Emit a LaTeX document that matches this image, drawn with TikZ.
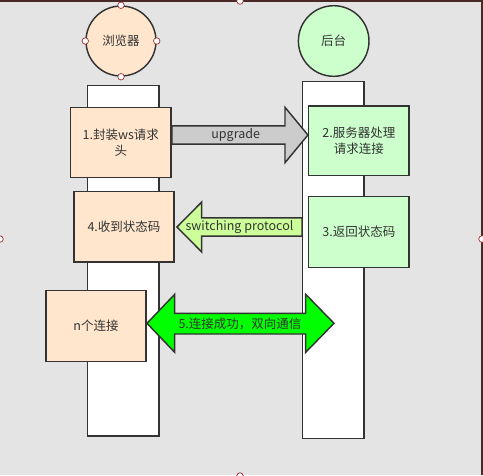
\documentclass[tikz,border=0pt]{standalone}
\usepackage{fontspec}
\setmainfont{Noto Sans CJK SC}
\definecolor{bg}{HTML}{E4E4E4}
\definecolor{peach}{HTML}{FFE6CC}
\definecolor{mint}{HTML}{CCFFCC}
\definecolor{arrgray}{HTML}{CCCCCC}
\definecolor{arrlime}{HTML}{CCFF99}
\definecolor{arrgreen}{HTML}{00FF00}
\definecolor{ink}{HTML}{333333}
\definecolor{frame}{HTML}{4A2828}
\definecolor{handle}{HTML}{A03030}
\begin{document}
\begin{tikzpicture}[x=1pt,y=-1pt,
  every node/.style={font=\fontsize{12.5}{16}\selectfont, text=ink},
  lifeline/.style={draw=ink, line width=1.45pt, fill=white, rectangle, inner sep=0pt},
  actor/.style={draw=ink, line width=1.45pt, circle, inner sep=0pt, minimum size=70pt},
  stepbox/.style={draw=ink, line width=1.45pt, rectangle, inner sep=0pt, align=center, minimum width=100.4pt, minimum height=70.4pt},
  blockarrow/.style={draw=ink, line width=1.45pt, line join=miter},
  grip/.style={draw=handle, fill=white, line width=0.7pt, circle, inner sep=0pt, minimum size=6.5pt}
]
\useasboundingbox (0,0) rectangle (483,475);
\fill[bg] (0,0) rectangle (481.5,475);
\draw[frame, line width=1.3pt] (0,1) -- (481.5,1);
\draw[frame, line width=2pt] (481.5,0) -- (481.5,475);

% lifelines
\node[lifeline, minimum width=71.3pt, minimum height=350.3pt] (ll1) at (123.35,260.85) {};
\node[lifeline, minimum width=61.3pt, minimum height=357pt] (ll2) at (333.35,260.2) {};

% actors
\node[actor, fill=peach] (browser) at (121,41) {浏览器};
\node[actor, fill=mint, minimum size=70.6pt] (server) at (333.7,41) {后台};

% step boxes
\node[stepbox, fill=peach] (b1) at (120.85,142.5) {1.封装ws请求\\头};
\node[stepbox, fill=mint, minimum height=69.7pt] (b2) at (358.85,140.85) {2.服务器处理\\请求连接};
\node[stepbox, fill=peach] (b4) at (124,226.85) {4.收到状态码};
\node[stepbox, fill=mint, minimum height=70.6pt] (b3) at (358.85,232) {3.返回状态码};
\node[stepbox, fill=peach, minimum height=70.6pt] (bn) at (96,326) {n个连接};

% upgrade arrow
\draw[blockarrow, fill=arrgray] (b1.east |- 0,125.8) -- (285,125.8) -- (285,107.3) -- (b2.west |- 0,135) -- (285,162.7) -- (285,144.2) -- (b1.east |- 0,144.2) -- cycle;
\node (lup) at (235.7,135.2) {upgrade};

% switching protocol arrow
\coordinate (swtip) at (177,227);
\draw[blockarrow, fill=arrlime] (ll2.west |- 0,217.8) -- (201.7,217.8) -- (201.7,202) -- (swtip) -- (201.7,252) -- (201.7,236.2) -- (ll2.west |- 0,236.2) -- cycle;
\node (lsw) at (239.5,227.5) {switching protocol};

% bidirectional arrow
\coordinate (dl) at (147,323.3);
\coordinate (dr) at (334,323.3);
\draw[blockarrow, fill=arrgreen] (dl) -- (174.7,294.3) -- (174.7,313.3) -- (305.7,313.3) -- (305.7,294.3) -- (dr) -- (305.7,352.3) -- (305.7,334) -- (174.7,334) -- (174.7,352.3) -- cycle;
\node (lduplex) at (240,323.5) {5.连接成功，双向通信};

% selection handles
\node[grip] (g1) at (browser.north) {};
\node[grip] (g2) at (browser.south) {};
\node[grip] (g3) at (browser.west) {};
\node[grip] (g4) at (browser.east) {};
\node[grip] (g5) at (240,1) {};
\node[grip] (g6) at (0,239) {};
\node[grip] (g7) at (482,239) {};
\node[grip] (g8) at (240,476) {};
\end{tikzpicture}
\end{document}
